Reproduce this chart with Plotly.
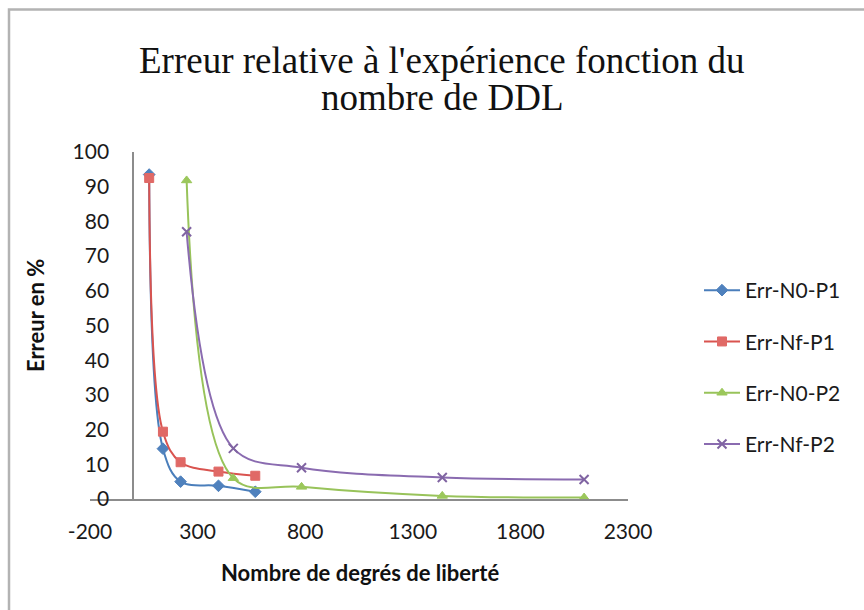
import plotly.graph_objects as go

# Degrees of freedom for the P1 and P2 meshes
ddl_p1 = [75, 139, 221, 397, 568]
ddl_p2 = [249, 466, 783, 1437, 2096]

# Relative error vs experiment (%)
err_n0_p1 = [93.5, 14.5, 5.0, 3.8, 2.1]
err_nf_p1 = [92.5, 19.4, 10.6, 7.9, 6.7]
err_n0_p2 = [91.8, 6.0, 3.5, 0.9, 0.4]
err_nf_p2 = [77.0, 14.6, 9.0, 6.2, 5.6]

x_ticks = [-200, 300, 800, 1300, 1800, 2300]
y_ticks = [0, 10, 20, 30, 40, 50, 60, 70, 80, 90, 100]

title_lines = ["Erreur relative à l'expérience fonction du", "nombre de DDL"]

W, H = 864, 610
L, R, T, B = 90, 628, 152, 499
X_MIN, X_MAX = -200, 2300

def px_x(px):
    return (px - L) / (R - L)

def px_y(py):
    return (B - py) / (B - T)

series = [
    ("Err-N0-P1", ddl_p1, err_n0_p1, "#4A7EBB", "diamond", "#4F81BD", 9),
    ("Err-Nf-P1", ddl_p1, err_nf_p1, "#D9534F", "square", "#E06966", 9),
    ("Err-N0-P2", ddl_p2, err_n0_p2, "#98C35A", "triangle-up", "#9BC75B", 9),
    ("Err-Nf-P2", ddl_p2, err_nf_p2, "#8A6BB0", "x-thin", "#8064A2", 9),
]

fig = go.Figure()
for i, (name, xs, ys, lc, sym, mc, ms) in enumerate(series):
    fig.add_trace(go.Scatter(
        x=xs, y=ys, name=name, mode="lines+markers",
        line=dict(color=lc, width=2, shape="spline", smoothing=1.0),
        marker=dict(symbol=sym, size=ms, color=mc,
                    line=dict(color=mc, width=2 if sym == "x-thin" else 1)),
        legendgroup=f"g{i}",
        cliponaxis=False,
    ))

font_txt = "Lato, 'Open Sans', sans-serif"
font_title = "'Liberation Serif', 'DejaVu Serif', serif"

annotations = [
    dict(text="<b>Erreur en %</b>", textangle=-90, showarrow=False,
         xref="paper", yref="paper", x=px_x(35), y=px_y(316),
         xanchor="center", yanchor="middle",
         font=dict(family=font_txt, size=22, color="#111111")),
    dict(text="<b>Nombre de degrés de liberté</b>", showarrow=False,
         xref="paper", yref="paper", x=px_x(360), y=px_y(572),
         xanchor="center", yanchor="middle",
         font=dict(family=font_txt, size=22, color="#111111")),
]
# Two-line chart title, each line placed on its own
for line_text, cy in zip(title_lines, [60, 98]):
    annotations.append(dict(
        text=line_text, showarrow=False,
        xref="paper", yref="paper", x=px_x(442), y=px_y(cy),
        xanchor="center", yanchor="middle",
        font=dict(family=font_title, size=37, color="#111111"),
    ))

fig.update_layout(
    width=W, height=H,
    margin=dict(l=L, r=W - R, t=T, b=H - B),
    paper_bgcolor="white", plot_bgcolor="white",
    showlegend=True,
    legend=dict(
        x=px_x(699), y=px_y(270), xanchor="left", yanchor="top",
        font=dict(family=font_txt, size=21, color="#1a1a1a"),
        tracegroupgap=21, bgcolor="rgba(0,0,0,0)", itemwidth=36,
    ),
    xaxis=dict(
        range=[X_MIN, X_MAX], tickvals=x_ticks, ticktext=[str(v) for v in x_ticks],
        showgrid=False, zeroline=False, showline=True,
        linecolor="#8c8c8c", linewidth=1.5,
        ticks="outside", ticklen=13, tickcolor="rgba(0,0,0,0)",
        tickfont=dict(family=font_txt, size=21, color="#1a1a1a"),
        fixedrange=True,
    ),
    yaxis=dict(
        range=[0, 100], tickvals=y_ticks,
        anchor="free", position=(0 - X_MIN) / (X_MAX - X_MIN),
        showgrid=False, zeroline=False, showline=True,
        linecolor="#8c8c8c", linewidth=1.5,
        ticks="outside", ticklen=19, tickcolor="rgba(0,0,0,0)",
        tickfont=dict(family=font_txt, size=21, color="#1a1a1a"),
        fixedrange=True,
    ),
    annotations=annotations,
    shapes=[
        dict(type="rect", xref="paper", yref="paper",
             x0=px_x(9), x1=px_x(900), y0=px_y(700), y1=px_y(9.5),
             line=dict(color="#b3b3b3", width=2.5), fillcolor="rgba(0,0,0,0)",
             layer="below"),
    ],
)

fig.write_html("out.html")
